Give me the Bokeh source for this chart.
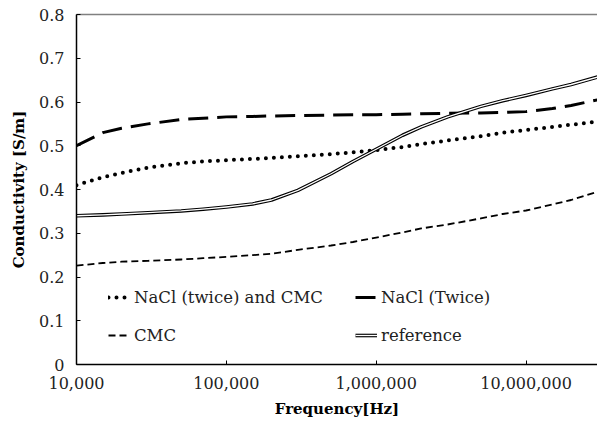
from bokeh.plotting import figure
from bokeh.models import (FixedTicker, LinearAxis, Legend, LegendItem, Range1d)
from bokeh.embed import file_html
from bokeh.resources import INLINE

freq = [1e4, 1.5e4, 2e4, 3e4, 5e4, 7e4, 1e5, 1.5e5, 2e5, 3e5, 5e5, 7e5,
        1e6, 1.5e6, 2e6, 3e6, 5e6, 7e6, 1e7, 1.5e7, 2e7, 3e7]
nacl_cmc = [0.41, 0.428, 0.438, 0.450, 0.460, 0.464, 0.467, 0.470, 0.472, 0.476, 0.481, 0.485,
            0.490, 0.497, 0.504, 0.512, 0.522, 0.530, 0.536, 0.543, 0.548, 0.555]
nacl_twice = [0.50, 0.53, 0.54, 0.55, 0.56, 0.563, 0.566, 0.567, 0.568, 0.569, 0.57, 0.571,
              0.571, 0.572, 0.573, 0.574, 0.575, 0.576, 0.578, 0.585, 0.592, 0.605]
cmc = [0.226, 0.232, 0.235, 0.237, 0.240, 0.243, 0.246, 0.250, 0.253, 0.262, 0.272, 0.280,
       0.290, 0.302, 0.311, 0.320, 0.334, 0.344, 0.352, 0.366, 0.376, 0.395]
reference = [0.340, 0.342, 0.344, 0.347, 0.351, 0.355, 0.36, 0.367, 0.376, 0.398, 0.436, 0.464,
             0.492, 0.524, 0.543, 0.566, 0.59, 0.603, 0.615, 0.63, 0.64, 0.657]

x_ticks = [1e4, 1e5, 1e6, 1e7]
x_labels = ["10,000", "100,000", "1,000,000", "10,000,000"]
y_ticks = [0, 0.1, 0.2, 0.3, 0.4, 0.5, 0.6, 0.7, 0.8]
y_labels = ["0", "0.1", "0.2", "0.3", "0.4", "0.5", "0.6", "0.7", "0.8"]

FONT = "DejaVu Serif"

p = figure(width=597, height=426, x_axis_type="log", output_backend="svg",
           toolbar_location=None, x_range=Range1d(1e4, 3e7), y_range=Range1d(0, 0.8),
           min_border_left=76, min_border_right=0, min_border_top=14, min_border_bottom=62)
p.outline_line_color = None
p.xgrid.visible = False
p.ygrid.visible = False
p.background_fill_color = "white"
p.border_fill_color = "white"

r_dot = p.line(freq, nacl_cmc, line_color="black", line_width=4, line_dash="0 8",
               line_cap="round", line_join="round")
r_long = p.line(freq, nacl_twice, line_color="black", line_width=3, line_dash="20 9",
                line_join="round")
r_cmc = p.line(freq, cmc, line_color="black", line_width=1.8, line_dash="7 4", line_join="round")
r_ref_o = p.line(freq, reference, line_color="black", line_width=3.6, line_join="round")
r_ref_i = p.line(freq, reference, line_color="white", line_width=1.3, line_join="round")

xa = p.xaxis[0]
xa.ticker = FixedTicker(ticks=x_ticks, minor_ticks=[])
xa.major_label_overrides = {t: l for t, l in zip(x_ticks, x_labels)}
ya = p.yaxis[0]
ya.ticker = FixedTicker(ticks=y_ticks, minor_ticks=[])
ya.major_label_overrides = {t: l for t, l in zip(y_ticks, y_labels)}
for ax in (xa, ya):
    ax.major_tick_in = 4
    ax.major_tick_out = 0
    ax.minor_tick_in = 0
    ax.minor_tick_out = 0
    ax.axis_line_color = "black"
    ax.axis_line_width = 1.5
    ax.major_tick_line_color = "black"
    ax.major_label_text_font = FONT
    ax.major_label_text_font_size = "16px"
    ax.major_label_text_color = "#222222"
    ax.axis_label_text_font = FONT
    ax.axis_label_text_font_size = "15px"
    ax.axis_label_text_font_style = "bold"
    ax.axis_label_text_color = "black"
xa.axis_label = "Frequency[Hz]"
ya.axis_label = "Conductivity [S/m]"
xa.major_label_standoff = 12
ya.major_label_standoff = 12
xa.axis_label_standoff = 8
ya.axis_label_standoff = 8

top = LinearAxis(ticker=FixedTicker(ticks=[]), axis_line_color="#808080", axis_line_width=1.5,
                 major_label_text_font_size="0px", major_tick_in=0, major_tick_out=0,
                 minor_tick_in=0, minor_tick_out=0)
p.add_layout(top, "above")

legend = Legend(items=[
    LegendItem(label="NaCl (twice) and CMC", renderers=[r_dot]),
    LegendItem(label="NaCl (Twice)", renderers=[r_long]),
    LegendItem(label="CMC", renderers=[r_cmc]),
    LegendItem(label="reference", renderers=[r_ref_o, r_ref_i]),
], location=(32, 19), orientation="horizontal", ncols=2,
    label_text_font=FONT, label_text_font_size="16.5px", label_text_color="#222222",
    glyph_width=22, glyph_height=20, label_height=20, label_width=203,
    label_standoff=4, spacing=18, padding=0, margin=0,
    border_line_color=None, background_fill_alpha=0)
p.add_layout(legend, "center")

open("out.html", "w").write(file_html(p, INLINE))
